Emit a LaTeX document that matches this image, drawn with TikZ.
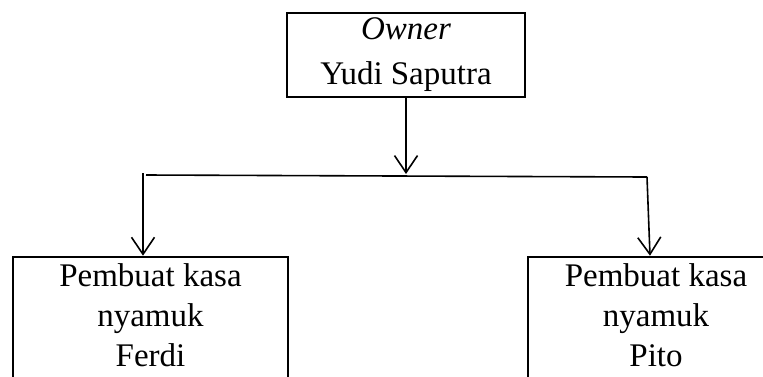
\documentclass[tikz,border=0pt]{standalone}
\usepackage{fontspec}
\setmainfont{Liberation Serif}
\usetikzlibrary{arrows.meta}
\begin{document}
\begin{tikzpicture}[x=1pt,y=-1pt,
  box/.style={draw, line width=2.6pt, inner sep=0pt, align=center},
  bigtext/.style={font=\fontsize{33}{40}\selectfont, text depth=16pt},
  conn/.style={line width=1.6pt},
  arr/.style={conn, -{Straight Barb[length=17pt,width=23pt,line width=1.6pt]}}]
\useasboundingbox (0,0) rectangle (763,376);
\clip (0,0) rectangle (763,376);
\node[box, minimum width=238pt, minimum height=84pt, font=\fontsize{33}{45}\selectfont] (own) at (406,55) {\textit{Owner}\\Yudi Saputra};
\node[box, bigtext, minimum width=275pt, minimum height=133pt] (fer) at (150.5,323.5) {Pembuat kasa\\nyamuk\\Ferdi};
\node[box, bigtext, minimum width=256pt, minimum height=133pt] (pit) at (656,323.5) {Pembuat kasa\\nyamuk\\Pito};
\coordinate (hm) at (406,174);
\coordinate (hl) at (146,175);
\coordinate (hr) at (647,177);
\coordinate (lv) at (143,173);
\coordinate (rv) at (647,177);
\draw[arr] (own.south) -- (hm);
\draw[conn] (hl) -- (hr);
\draw[arr] (lv) -- (lv |- fer.north);
\draw[arr] (rv) -- ([xshift=3pt]rv |- pit.north);
\end{tikzpicture}
\end{document}
